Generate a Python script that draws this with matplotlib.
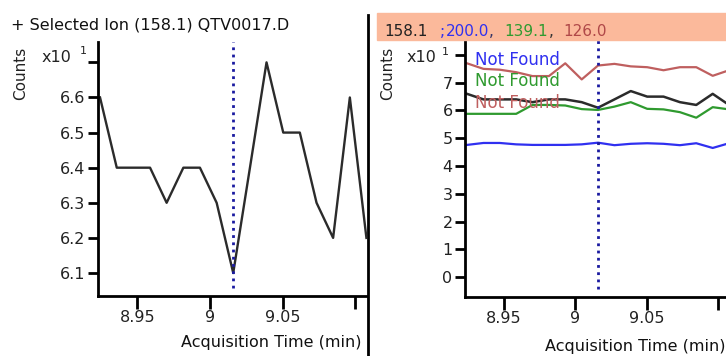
import matplotlib
matplotlib.use("Agg")
import matplotlib.pyplot as plt
from matplotlib.patches import Rectangle
from matplotlib.lines import Line2D

# acquisition times (min) of the scans
times = [8.9244, 8.9359, 8.9473, 8.9588, 8.9702, 8.9817, 8.9931, 9.0046, 9.0160,
         9.0275, 9.0389, 9.0504, 9.0618, 9.0733, 9.0847, 9.0962, 9.1076]

# counts (x10^1)
ion_158 = [6.6, 6.4, 6.4, 6.4, 6.3, 6.4, 6.4, 6.3, 6.1,
           6.4, 6.7, 6.5, 6.5, 6.3, 6.2, 6.6, 6.2]
ion_200 = [4.76, 4.83, 4.83, 4.78, 4.76, 4.76, 4.76, 4.78, 4.84,
           4.75, 4.80, 4.82, 4.80, 4.75, 4.82, 4.65, 4.82]
ion_139 = [5.88, 5.88, 5.88, 5.88, 6.20, 6.20, 6.18, 6.05, 6.02,
           6.14, 6.30, 6.06, 6.04, 5.94, 5.74, 6.12, 6.04]
ion_126 = [7.70, 7.50, 7.47, 7.38, 7.24, 7.24, 7.70, 7.12, 7.62,
           7.68, 7.59, 7.56, 7.45, 7.56, 7.56, 7.25, 7.45]

marker_time = 9.016
xticks = [8.95, 9.0, 9.05, 9.1]
xtick_labels = ["8.95", "9", "9.05", ""]
left_yticks = [6.1, 6.2, 6.3, 6.4, 6.5, 6.6, 6.7]
left_ylabels = ["6.1", "6.2", "6.3", "6.4", "6.5", "6.6", ""]
right_yticks = [0, 1, 2, 3, 4, 5, 6, 7, 8]
right_ylabels = ["0", "1", "2", "3", "4", "5", "6", "7", ""]

W, H = 726, 356
BLACK = "#2b2b2b"
BLUE = "#3030f0"
GREEN = "#2f9a2f"
RED = "#bf5f5f"
plt.rcParams['font.family'] = ['DejaVu Sans']


def px(x, y):
    return x / W, 1 - y / H


def style_axes(ax):
    for s in ("top", "right"):
        ax.spines[s].set_visible(False)
    for s in ("left", "bottom"):
        ax.spines[s].set_linewidth(2)
        ax.spines[s].set_color("black")
    ax.tick_params(axis="y", direction="out", length=7, width=2, labelsize=11.5,
                   pad=2, labelcolor="#222222")
    ax.tick_params(axis="x", direction="out", length=9, width=2, labelsize=11.5,
                   pad=1, labelcolor="#222222")
    ax.set_xticks(xticks)
    ax.set_xticklabels(xtick_labels)


fig = plt.figure(figsize=(W / 100, H / 100), dpi=100)

# left panel
ax1 = fig.add_axes([98 / W, 1 - 296 / H, 269 / W, 254 / H])
ax1.plot(times, ion_158, color=BLACK, lw=1.7)
ax1.axvline(marker_time, ymin=0.03, ymax=1, color="#1a1aa0", lw=2, ls=(0, (1, 1.6)))
ax1.set_xlim(8.923, 9.108)
ax1.set_ylim(6.0345, 6.758)
style_axes(ax1)
ax1.set_yticks(left_yticks)
ax1.set_yticklabels(left_ylabels)

# right panel
ax2 = fig.add_axes([465 / W, 1 - 297 / H, 261 / W, 257 / H])
ax2.plot(times, ion_126, color=RED, lw=1.6)
ax2.plot(times, ion_158, color=BLACK, lw=1.8)
ax2.plot(times, ion_139, color=GREEN, lw=1.6)
ax2.plot(times, ion_200, color=BLUE, lw=1.6)
ax2.axvline(marker_time, ymin=0.03, ymax=1, color="#1a1aa0", lw=2, ls=(0, (1, 1.6)))
ax2.set_xlim(8.923, 9.1055)
ax2.set_ylim(-0.72, 8.54)
style_axes(ax2)
ax2.set_yticks(right_yticks)
ax2.set_yticklabels(right_ylabels)

# header band of the right panel
fig.patches.append(Rectangle(px(377, 40), (W - 377) / W, 27 / H,
                             transform=fig.transFigure, color="#fbb99b", zorder=0))
header = [("158.1", 384, "#222222"), (";", 440, BLUE), ("200.0", 446, BLUE),
          (",", 489, "#333366"), ("139.1", 504, GREEN), (",", 549, "#333333"),
          ("126.0", 563, "#b04848")]
for txt, x, c in header:
    fig.text(*px(x, 32), txt, color=c, fontsize=11, va="center", ha="left")

for txt, y, c in [("Not Found", 60, BLUE), ("Not Found", 81, GREEN), ("Not Found", 103, RED)]:
    fig.text(*px(475, y), txt, color=c, fontsize=12, va="center", ha="left")

fig.text(*px(11, 25), "+ Selected Ion (158.1) QTV0017.D", fontsize=11.5,
         va="center", ha="left", color="#111111")

for xc, xs, xsup, ysup in [(21, 42, 80, 51), (388, 407, 442, 52)]:
    fig.text(*px(xc, 73), "Counts", rotation=90, fontsize=11, va="center", ha="center",
             color="#222222")
    fig.text(*px(xs, 58), "x10", fontsize=11.5, va="center", ha="left", color="#222222")
    fig.text(*px(xsup, ysup), "1", fontsize=8, va="center", ha="left", color="#222222")

fig.text(*px(271, 342), "Acquisition Time (min)", fontsize=11.5, va="center",
         ha="center", color="#111111")
fig.text(*px(545, 346), "Acquisition Time (min)", fontsize=11.5, va="center",
         ha="left", color="#111111")

# panel separator
fig.lines.append(Line2D([368 / W, 368 / W], [1 - 15 / H, 0], transform=fig.transFigure,
                        color="black", lw=2))

fig.savefig("out.png", dpi=100)
